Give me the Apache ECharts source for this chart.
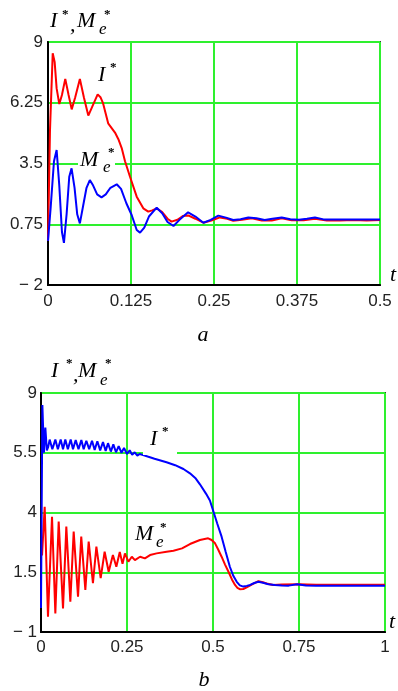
<!DOCTYPE html>
<html>
<head>
<meta charset="utf-8">
<script src="https://cdn.jsdelivr.net/npm/echarts@6/dist/echarts.min.js"></script>
<style>
html,body{margin:0;padding:0;background:#fff;}
#c{width:398px;height:691px;}
</style>
</head>
<body>
<div id="c"></div>
<script>
// ---------- Panel a ----------
const tA_I = [0, 0.003, 0.0071, 0.010, 0.013, 0.017, 0.021, 0.026, 0.031, 0.0357, 0.041, 0.048, 0.054, 0.0607, 0.067, 0.0748, 0.079, 0.083, 0.0906, 0.1009, 0.106, 0.111, 0.116, 0.1235, 0.1336, 0.1435, 0.151, 0.157, 0.1637, 0.172, 0.180, 0.186, 0.195, 0.203, 0.211, 0.222, 0.234, 0.246, 0.259, 0.270, 0.279, 0.292, 0.307, 0.322, 0.337, 0.352, 0.367, 0.385, 0.402, 0.42, 0.44, 0.46, 0.48, 0.5];
const vA_I = [0, 5.0, 8.49, 8.1, 6.9, 6.19, 6.6, 7.33, 6.6, 5.95, 6.5, 7.33, 6.5, 5.67, 6.1, 6.63, 6.5, 6.22, 5.32, 4.9, 4.6, 4.2, 3.6, 2.9, 2.0, 1.47, 1.32, 1.38, 1.47, 1.3, 1.0, 0.87, 0.95, 1.12, 1.15, 1.0, 0.82, 0.92, 1.06, 1.0, 0.91, 0.95, 1.02, 0.92, 0.92, 1.02, 0.93, 0.93, 1.0, 0.92, 0.92, 0.94, 0.92, 0.94];
const tA_M = [0, 0.004, 0.009, 0.013, 0.017, 0.021, 0.024, 0.028, 0.032, 0.0355, 0.040, 0.044, 0.048, 0.053, 0.058, 0.063, 0.068, 0.074, 0.0806, 0.087, 0.094, 0.1035, 0.110, 0.118, 0.126, 0.1336, 0.1386, 0.145, 0.152, 0.1637, 0.172, 0.180, 0.189, 0.198, 0.211, 0.222, 0.234, 0.245, 0.2565, 0.268, 0.279, 0.290, 0.3017, 0.314, 0.3263, 0.338, 0.352, 0.365, 0.378, 0.39, 0.402, 0.415, 0.45, 0.5];
const vA_M = [0, 1.5, 3.6, 4.11, 2.5, 0.4, -0.09, 1.2, 2.9, 3.28, 2.4, 1.2, 0.79, 1.6, 2.4, 2.75, 2.5, 2.1, 1.97, 2.1, 2.4, 2.56, 2.35, 1.7, 1.17, 0.49, 0.37, 0.6, 1.1, 1.5, 1.25, 0.85, 0.67, 0.95, 1.29, 1.1, 0.82, 0.95, 1.14, 1.05, 0.94, 0.98, 1.06, 1.02, 0.94, 1.0, 1.06, 0.98, 0.95, 1.0, 1.06, 0.97, 0.97, 0.97];
const xTicksA = [0, 0.125, 0.25, 0.375, 0.5];
const xLabelsA = ['0', '0.125', '0.25', '0.375', '0.5'];
const yTicksA = [-2, 0.75, 3.5, 6.25, 9];
const yLabelsA = ['\u2212 2', '0.75', '3.5', '6.25', '9'];

// ---------- Panel b ----------
const tB_I = [0, 0.004, 0.0085, 0.0126, 0.017, 0.021, 0.0252, 0.033, 0.0417, 0.049, 0.0572, 0.064, 0.0707, 0.078, 0.0863, 0.093, 0.1008, 0.109, 0.1173, 0.124, 0.1318, 0.140, 0.1483, 0.156, 0.1638, 0.172, 0.1802, 0.188, 0.1948, 0.203, 0.2103, 0.218, 0.2258, 0.234, 0.2413, 0.250, 0.2578, 0.265, 0.2723, 0.280, 0.2868, 0.297, 0.31, 0.33, 0.365, 0.39, 0.414, 0.433, 0.45, 0.462, 0.48, 0.491, 0.501, 0.512, 0.525, 0.537, 0.549, 0.559, 0.569, 0.578, 0.588, 0.598, 0.608, 0.62, 0.632, 0.645, 0.661, 0.68, 0.7, 0.72, 0.744, 0.77, 0.8, 0.9, 1.0];
const vB_I = [0, 8.5, 6.5, 7.55, 6.6, 6.75, 7.05, 6.65, 7.05, 6.65, 7.05, 6.65, 7.05, 6.65, 7.05, 6.65, 7.03, 6.65, 7.03, 6.65, 7.0, 6.65, 7.0, 6.62, 6.98, 6.6, 6.95, 6.58, 6.9, 6.55, 6.85, 6.52, 6.78, 6.5, 6.7, 6.45, 6.6, 6.42, 6.52, 6.38, 6.45, 6.4, 6.34, 6.25, 6.1, 5.98, 5.82, 5.64, 5.42, 5.18, 4.78, 4.5, 4.05, 3.55, 2.99, 2.35, 1.73, 1.35, 1.1, 0.95, 0.9, 0.93, 0.97, 1.05, 1.1, 1.06, 1.0, 0.97, 0.95, 0.94, 1.0, 0.95, 0.93, 0.93, 0.93];
const tB_M = [0.003, 0.0107, 0.0203, 0.032, 0.0417, 0.0514, 0.064, 0.0736, 0.0853, 0.095, 0.1076, 0.117, 0.1289, 0.1386, 0.151, 0.161, 0.1735, 0.185, 0.1967, 0.209, 0.219, 0.229, 0.237, 0.244, 0.254, 0.264, 0.273, 0.288, 0.302, 0.317, 0.336, 0.365, 0.385, 0.41, 0.433, 0.462, 0.472, 0.486, 0.496, 0.506, 0.515, 0.525, 0.535, 0.545, 0.555, 0.564, 0.571, 0.578, 0.588, 0.598, 0.615, 0.632, 0.645, 0.656, 0.675, 0.7, 0.75, 0.8, 1.0];
const vB_M = [2.2, 4.24, -0.36, 3.82, -0.22, 3.62, -0.01, 3.41, 0.27, 3.2, 0.48, 2.99, 0.76, 2.78, 1.04, 2.57, 1.25, 2.36, 1.52, 2.22, 1.73, 2.35, 1.85, 2.29, 1.94, 2.15, 2.01, 2.15, 2.08, 2.22, 2.29, 2.36, 2.4, 2.5, 2.68, 2.85, 2.88, 2.92, 2.85, 2.71, 2.45, 2.15, 1.82, 1.52, 1.2, 0.97, 0.85, 0.79, 0.8, 0.87, 1.0, 1.13, 1.08, 1.03, 0.97, 0.99, 1.0, 0.98, 0.98];
const xTicksB = [0, 0.25, 0.5, 0.75, 1];
const xLabelsB = ['0', '0.25', '0.5', '0.75', '1'];
const yTicksB = [-1, 1.5, 4, 6.5, 9];
const yLabelsB = ['\u2212 1', '1.5', '4', '5.5', '9'];

function pairs(t, v) { return t.map((x, i) => [x, v[i]]); }
function lab(ticks, labels) {
  return function (val) {
    const i = ticks.findIndex(t => Math.abs(t - val) < 1e-6);
    return i >= 0 ? labels[i] : '';
  };
}

const GREEN = '#2ef02e';
const tickFont = { fontFamily: 'Liberation Sans', fontSize: 17, color: '#222' };
const serif = 'italic 22px "Liberation Serif"';
const serifSub = 'italic 17px "Liberation Serif"';
const star = 'bold 13px "Liberation Serif"';

function xAx(gi, max, iv, ticks, labels, margin) {
  return {
    type: 'value', gridIndex: gi, min: 0, max: max, interval: iv,
    axisLine: { show: true, onZero: false, lineStyle: { color: '#000', width: 2 } },
    axisTick: { show: false },
    splitLine: { show: true, lineStyle: { color: GREEN, width: 2 } },
    axisLabel: Object.assign({ margin: margin, showMinLabel: true, showMaxLabel: true, formatter: lab(ticks, labels) }, tickFont)
  };
}
function yAx(gi, min, max, iv, ticks, labels, margin) {
  return {
    type: 'value', gridIndex: gi, min: min, max: max, interval: iv,
    axisLine: { show: true, onZero: false, lineStyle: { color: '#000', width: 2 } },
    axisTick: { show: false },
    splitLine: { show: true, lineStyle: { color: GREEN, width: 2 } },
    axisLabel: Object.assign({ margin: margin, showMinLabel: true, showMaxLabel: true, formatter: lab(ticks, labels) }, tickFont)
  };
}

function txt(x, y, s, font, align) {
  return {
    type: 'text', x: x, y: y, z: 100,
    style: { text: s, font: font, fill: '#000', align: align || 'left', verticalAlign: 'middle' }
  };
}
function rect(x, y, w, h) {
  return { type: 'rect', z: 99, shape: { x: x, y: y, width: w, height: h }, style: { fill: '#fff' } };
}

const graphics = [
  // panel a title
  txt(50, 21, 'I', serif), txt(62, 15, '*', star), txt(70, 25, ',', serif),
  txt(77, 21, 'M', serif), txt(99, 30, 'e', serifSub), txt(104, 15, '*', star),
  // panel a curve labels
  txt(98, 75, 'I', serif), txt(110, 68, '*', star),
  rect(78, 148, 37, 22),
  txt(80, 160, 'M', serif), txt(103, 168, 'e', serifSub), txt(108, 153, '*', star),
  txt(390, 275, 't', serif),
  txt(203, 335, 'a', serif, 'center'),
  // panel b title
  txt(51, 371, 'I', serif), txt(66, 364, '*', star), txt(73, 375, ',', serif),
  txt(78, 371, 'M', serif), txt(100, 381, 'e', serifSub), txt(105, 364, '*', star),
  // panel b curve labels
  rect(143, 430, 34, 25),
  txt(150, 439, 'I', serif), txt(162, 432, '*', star),
  txt(135, 534, 'M', serif), txt(156, 543, 'e', serifSub), txt(160, 528, '*', star),
  txt(389, 622, 't', serif),
  txt(204, 680, 'b', serif, 'center')
];

const chart = echarts.init(document.getElementById('c'), null, { renderer: 'canvas' });
chart.setOption({
  animation: false,
  backgroundColor: '#fff',
  grid: [
    { left: 48, top: 42, width: 332, height: 243, show: true, borderColor: '#3a3a3a', borderWidth: 2, backgroundColor: '#fff' },
    { left: 41, top: 393, width: 344, height: 239, show: true, borderColor: '#3a3a3a', borderWidth: 2, backgroundColor: '#fff' }
  ],
  xAxis: [
    xAx(0, 0.5, 0.125, xTicksA, xLabelsA, 8),
    xAx(1, 1, 0.25, xTicksB, xLabelsB, 7)
  ],
  yAxis: [
    yAx(0, -2, 9, 2.75, yTicksA, yLabelsA, 5),
    yAx(1, -1, 9, 2.5, yTicksB, yLabelsB, 4)
  ],
  series: [
    { type: 'line', xAxisIndex: 0, yAxisIndex: 0, data: pairs(tA_I, vA_I), showSymbol: false, lineStyle: { color: '#ff0000', width: 2 }, z: 2 },
    { type: 'line', xAxisIndex: 0, yAxisIndex: 0, data: pairs(tA_M, vA_M), showSymbol: false, lineStyle: { color: '#0000ff', width: 2 }, z: 3 },
    { type: 'line', xAxisIndex: 1, yAxisIndex: 1, data: pairs(tB_M, vB_M), showSymbol: false, lineStyle: { color: '#ff0000', width: 2 }, z: 2 },
    { type: 'line', xAxisIndex: 1, yAxisIndex: 1, data: pairs(tB_I, vB_I), showSymbol: false, lineStyle: { color: '#0000ff', width: 2 }, z: 3 }
  ],
  graphic: graphics
});
</script>
</body>
</html>
